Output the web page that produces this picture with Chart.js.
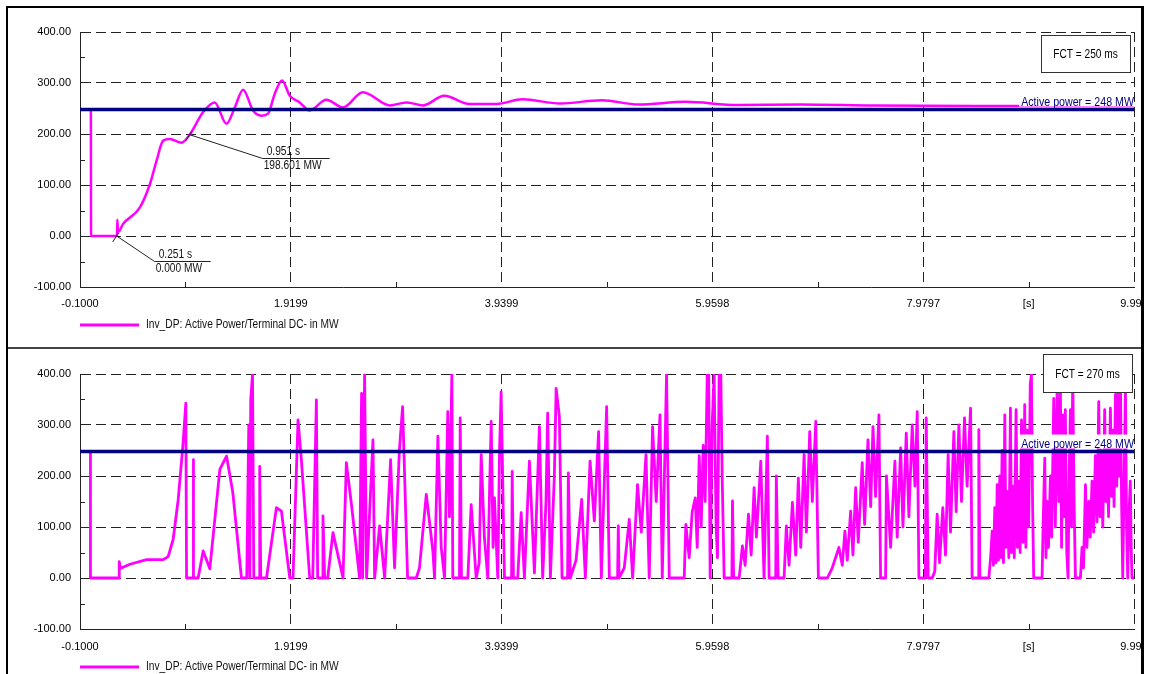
<!DOCTYPE html>
<html>
<head>
<meta charset="utf-8">
<title>Inv_DP active power</title>
<script src="https://cdn.jsdelivr.net/npm/chart.js@4.4.1/dist/chart.umd.min.js"></script>
<style>
  html, body { margin: 0; padding: 0; background: #fff; }
  body { width: 1150px; height: 674px; position: relative; overflow: hidden; }
  canvas { position: absolute; left: 0; }
  #topChart { top: 0; }
  #bottomChart { top: 349px; }
  #frame { position: absolute; left: 6px; top: 6px; width: 1133px; height: 700px; border: 2px solid #000; border-right-width: 3px; z-index: 2; }
  #divider { position: absolute; left: 8px; top: 347px; width: 1133px; height: 2px; background: #444; z-index: 2; }
  #edge { position: absolute; left: 1144px; top: 0; width: 6px; height: 674px; background: #fff; z-index: 1; }
</style>
</head>
<body>
<canvas id="topChart" width="1150" height="345"></canvas>
<canvas id="bottomChart" width="1150" height="325"></canvas>
<div id="edge"></div>
<div id="divider"></div>
<div id="frame"></div>
<script>
const FONT = "'Liberation Sans', Arial, sans-serif";

// axes
const xMin = -0.1;
const xMax = 9.999;
const xTickValues = [-0.1, 0.90995, 1.9199, 2.9299, 3.9399, 4.94985, 5.9598, 6.96975, 7.9797, 8.98935, 9.999];
const xTickLabels = ['-0.1000', '', '1.9199', '', '3.9399', '', '5.9598', '', '7.9797', '[s]', '9.999'];
const yTickValues = [-100, -50, 0, 50, 100, 150, 200, 250, 300, 350, 400];
const yTickLabels = ['-100.00', '', '0.00', '', '100.00', '', '200.00', '', '300.00', '', '400.00'];

const legendText = 'Inv_DP: Active Power/Terminal DC- in MW';
const activePowerRef = 248; // MW

// FCT = 250 ms case (s / MW)
const topTime = [-0.1, 0.004, 0.006, 0.255, 0.257, 0.265, 0.314, 0.474, 0.57, 0.634, 0.697, 0.761, 0.873, 0.951,
  1.08, 1.19, 1.304, 1.383, 1.463, 1.558, 1.639, 1.702, 1.766, 1.836, 1.91, 2.005, 2.10, 2.26, 2.42, 2.61,
  2.87, 3.03, 3.185, 3.39, 3.63, 3.89, 4.14, 4.5, 4.9, 5.25, 5.7, 6.2, 6.8, 7.5, 8.5, 9.999];
const topPower = [248, 248, 0, 0, 32, 8, 24, 56, 102, 148, 187, 190, 183, 198.6,
  243, 262, 220, 252, 287, 246, 236, 240, 279, 305, 275, 262, 246, 267, 252, 282,
  256, 262, 256, 275, 259, 259, 268, 260, 266, 258, 263, 257, 258, 256, 255, 255];

// cursor readouts on the upper trace
const markerTime = [0.251, 0.951];
const markerPower = [0.000, 198.601];

// FCT = 270 ms case (s / MW)
const bottomTime = [
  -0.1, 0.0, 0.0, 0.276, 0.276, 0.29, 0.378, 0.538, 0.697, 0.745, 0.793, 0.841, 0.888, 0.914, 0.921,
  0.984, 0.984, 0.99, 1.032, 1.08, 1.144, 1.24, 1.304, 1.364, 1.447,
  1.498, 1.517, 1.527, 1.536, 1.553, 1.565, 1.616, 1.622, 1.632, 1.687, 1.782, 1.83, 1.91,
  1.941, 1.989, 2.021, 2.101, 2.13, 2.165, 2.177, 2.222, 2.228, 2.244, 2.273, 2.324, 2.42,
  2.452, 2.5, 2.579, 2.598, 2.608, 2.627, 2.646, 2.707, 2.723, 2.771, 2.819, 2.876, 2.914, 2.96, 2.991, 3.039,
  3.122, 3.153, 3.218, 3.281, 3.297, 3.329, 3.361, 3.393, 3.424, 3.44, 3.463, 3.472,
  3.536, 3.543, 3.555, 3.616, 3.648, 3.696, 3.725, 3.744, 3.775, 3.807, 3.825, 3.84, 3.858, 3.871, 3.903, 3.92, 3.935, 3.967,
  4.035, 4.041, 4.053, 4.094, 4.127, 4.158, 4.206, 4.254, 4.302, 4.333, 4.365, 4.381, 4.407, 4.445, 4.462, 4.493, 4.519,
  4.572, 4.579, 4.598, 4.653, 4.707, 4.742, 4.787, 4.828, 4.869, 4.895, 4.946, 4.972,
  5.051, 5.058, 5.065, 5.115, 5.163, 5.195, 5.242, 5.278, 5.323, 5.354, 5.386, 5.421, 5.457, 5.479, 5.52, 5.546,
  5.689, 5.705, 5.737, 5.766, 5.795, 5.814, 5.833, 5.852, 5.871, 5.89, 5.91, 5.924, 5.938, 5.957, 5.976, 5.995, 6.008, 6.024, 6.04, 6.053, 6.072,
  6.146, 6.152, 6.163, 6.216, 6.247, 6.273, 6.305, 6.331, 6.359, 6.381, 6.423, 6.454, 6.486, 6.503,
  6.566, 6.572, 6.589, 6.646, 6.668, 6.694, 6.726, 6.758, 6.783, 6.806, 6.838, 6.86, 6.892, 6.917, 6.95, 6.975,
  7.061, 7.108, 7.172, 7.204, 7.229, 7.252, 7.284, 7.306, 7.332, 7.357, 7.395, 7.418, 7.45, 7.476, 7.498, 7.523, 7.555, 7.571,
  7.619, 7.627, 7.667, 7.708, 7.73, 7.763, 7.785, 7.817, 7.842, 7.874, 7.9, 7.922, 7.938,
  8.0, 8.008, 8.027, 8.065, 8.09, 8.113, 8.136, 8.167, 8.193, 8.218, 8.241, 8.273, 8.295, 8.321, 8.346, 8.375, 8.4, 8.433, 8.448,
  8.506, 8.512, 8.522, 8.608, 8.625, 8.64, 8.652, 8.665, 8.677, 8.688, 8.7, 8.713, 8.724, 8.735, 8.748, 8.761, 8.772, 8.783, 8.8,
  8.815, 8.826, 8.837, 8.852, 8.869, 8.882, 8.895, 8.908, 8.921, 8.936, 8.952, 8.963, 8.974, 8.99, 9.005, 9.016, 9.027, 9.038,
  9.118, 9.13, 9.144, 9.155, 9.166, 9.18, 9.198, 9.21, 9.23, 9.245, 9.262, 9.278, 9.293, 9.305, 9.316, 9.33, 9.341, 9.355,
  9.367, 9.378, 9.39, 9.4, 9.412, 9.425, 9.438,
  9.486, 9.501, 9.515, 9.534, 9.548, 9.565, 9.58, 9.597, 9.612, 9.629, 9.645, 9.661, 9.674, 9.686, 9.7, 9.718, 9.73, 9.74, 9.755,
  9.773, 9.785, 9.795, 9.808, 9.821, 9.834, 9.846, 9.858, 9.869, 9.88, 9.891, 9.905, 9.917, 9.928, 9.939, 9.95, 9.964, 9.972, 9.98, 9.999
];
const bottomPower = [
  248, 248, 0, 0, 32, 19, 27, 36, 36, 42, 76, 154, 265, 343, 0,
  0, 232, 0, 0, 53, 18, 213, 239, 168, 0,
  0, 300, 0, 350, 400, 0, 0, 219, 0, 0, 138, 131, 0,
  0, 310, 232, 0, 0, 349, 0, 0, 122, 0, 0, 89, 0,
  226, 146, 0, 362, 0, 400, 0, 271, 0, 102, 0, 232, 20, 250, 336, 0,
  0, 20, 164, 53, 0, 278, 60, 0, 326, 120, 400, 0,
  0, 314, 0, 0, 144, 0, 30, 242, 79, 0, 180, 307, 60, 157, 0, 250, 365, 0,
  0, 209, 0, 0, 128, 0, 229, 10, 297, 0, 150, 323, 0, 200, 372, 317, 0,
  0, 206, 0, 35, 154, 0, 229, 112, 287, 0, 336, 0,
  0, 102, 0, 20, 115, 0, 183, 90, 242, 0, 297, 150, 320, 0, 400, 0,
  0, 105, 40, 130, 157, 60, 240, 100, 260, 150, 400, 400, 0, 300, 400, 100, 40, 400, 400, 200, 0,
  0, 151, 0, 0, 63, 25, 125, 45, 177, 80, 229, 0, 278, 0,
  0, 200, 0, 0, 102, 25, 148, 45, 196, 60, 242, 90, 287, 150, 307, 0,
  0, 20, 60, 25, 92, 35, 131, 45, 177, 70, 226, 105, 271, 140, 297, 160, 320, 0,
  0, 200, 60, 229, 80, 255, 100, 284, 120, 300, 180, 326, 0,
  0, 314, 0, 0, 13, 125, 30, 138, 45, 242, 90, 287, 130, 300, 150, 314, 180, 333, 0,
  0, 291, 0, 0, 40, 92, 25, 138, 30, 183, 35, 200, 40, 250, 30, 320, 60, 170, 40,
  333, 50, 180, 40, 330, 60, 190, 50, 310, 70, 340, 60, 290, 100, 380, 400, 150, 0,
  0, 120, 235, 40, 150, 60, 200, 80, 352, 100, 370, 150, 400, 60, 320, 120, 330, 50,
  0, 200, 330, 100, 400, 150, 0,
  0, 60, 20, 183, 60, 150, 80, 190, 90, 240, 110, 346, 120, 250, 100, 330, 150, 260, 120,
  333, 160, 290, 140, 360, 180, 376, 200, 400, 150, 0, 200, 376, 100, 0, 120, 190, 60, 0, 0
];

function isMajor(label) {
  return /\d/.test(label);
}

// narrow text, like the plotting program's screen font
function narrowText(ctx, text, x, y, size, squeeze, align, baseline) {
  ctx.save();
  ctx.font = `${size}px ${FONT}`;
  ctx.translate(x, y);
  ctx.scale(squeeze, 1);
  ctx.textAlign = align;
  ctx.textBaseline = baseline;
  ctx.fillText(text, 0, 0);
  ctx.restore();
}

// inner minor ticks, cursor readouts, reference label, FCT box and legend
const panelDecor = {
  id: 'panelDecor',
  beforeDatasetsDraw(chart) {
    const { ctx, chartArea: area, scales: { x, y } } = chart;
    ctx.save();
    ctx.strokeStyle = '#222';
    ctx.lineWidth = 1;
    ctx.beginPath();
    xTickValues.forEach((v, i) => {
      if (isMajor(xTickLabels[i])) return;
      const px = Math.round(x.getPixelForValue(v)) + 0.5;
      ctx.moveTo(px, area.bottom);
      ctx.lineTo(px, area.bottom - 5);
    });
    yTickValues.forEach((v, i) => {
      if (isMajor(yTickLabels[i])) return;
      const py = Math.round(y.getPixelForValue(v)) + 0.5;
      ctx.moveTo(area.left, py);
      ctx.lineTo(area.left + 5, py);
    });
    ctx.stroke();
    ctx.restore();
  },
  afterDatasetsDraw(chart, args, opts) {
    const { ctx, chartArea: area, scales: { x, y } } = chart;
    ctx.save();

    // reference level label on a white patch
    const refText = `Active power = ${activePowerRef} MW`;
    const yRef = y.getPixelForValue(activePowerRef);
    ctx.font = `13px ${FONT}`;
    const w = ctx.measureText(refText).width * 0.82;
    ctx.fillStyle = '#fff';
    ctx.fillRect(area.right - w - 2, yRef - 17, w + 2, 14);
    ctx.fillStyle = '#000080';
    narrowText(ctx, refText, area.right, yRef - 4, 13, 0.82, 'right', 'alphabetic');

    // cursor readouts
    if (opts.markers) {
      ctx.strokeStyle = '#222';
      ctx.fillStyle = '#111';
      ctx.lineWidth = 1;
      markerTime.forEach((t, i) => {
        const m = opts.markers[i];
        const px = x.getPixelForValue(t);
        const py = y.getPixelForValue(markerPower[i]);
        const ex = px + m.dx, ey = Math.round(py + m.dy) + 0.5;
        ctx.beginPath();
        ctx.moveTo(px - 4, py + 6);
        ctx.lineTo(px + 2, py - 3);
        ctx.moveTo(px, py);
        ctx.lineTo(ex, ey);
        ctx.lineTo(ex + m.len, ey);
        ctx.stroke();
        narrowText(ctx, `${t.toFixed(3)} s`, ex + 4, ey - 1, 12, 0.85, 'left', 'bottom');
        narrowText(ctx, `${markerPower[i].toFixed(3)} MW`, ex + 1, ey + 1, 12, 0.85, 'left', 'top');
      });
    }
    ctx.restore();
  },
  afterDraw(chart, args, opts) {
    const { ctx, chartArea: area } = chart;
    ctx.save();
    // FCT box
    const b = opts.fct;
    const bx = Math.round(area.right - b.fromRight), by = Math.round(area.top + b.fromTop);
    ctx.fillStyle = '#fff';
    ctx.fillRect(bx, by, b.w, b.h);
    ctx.strokeStyle = '#333';
    ctx.lineWidth = 1;
    ctx.strokeRect(bx + 0.5, by + 0.5, b.w, b.h);
    ctx.fillStyle = '#000';
    narrowText(ctx, b.text, bx + b.w / 2, by + b.h / 2 + 1, 13, 0.78, 'center', 'middle');

    // legend
    const ly = area.bottom + 38;
    ctx.strokeStyle = '#ff00ff';
    ctx.lineWidth = 3;
    ctx.beginPath();
    ctx.moveTo(area.left, ly);
    ctx.lineTo(area.left + 59, ly);
    ctx.stroke();
    ctx.fillStyle = '#111';
    narrowText(ctx, legendText, area.left + 66, ly, 12, 0.85, 'left', 'middle');
    ctx.restore();
  }
};

function gridColor(labels) {
  return (c) => (c.index === 0 || !isMajor(labels[c.index] || '')) ? 'rgba(0,0,0,0)' : '#222';
}

function buildChart(canvasId, time, power, panel) {
  const points = time.map((t, i) => ({ x: t, y: power[i] }));
  return new Chart(document.getElementById(canvasId), {
    type: 'line',
    data: {
      datasets: [
        {
          label: 'Active power',
          data: [{ x: xMin, y: activePowerRef }, { x: xMax, y: activePowerRef }],
          borderColor: '#000080',
          borderWidth: 3.5,
          pointRadius: 0
        },
        {
          label: legendText,
          data: points,
          borderColor: '#ff00ff',
          borderWidth: panel.lineWidth,
          borderJoinStyle: 'round',
          pointRadius: 0,
          tension: 0,
          cubicInterpolationMode: panel.smooth ? 'monotone' : 'default',
          clip: 0
        }
      ]
    },
    options: {
      responsive: false,
      animation: false,
      devicePixelRatio: 1,
      events: [],
      layout: { padding: { top: panel.padTop, right: 16, left: 0, bottom: 0 } },
      scales: {
        x: {
          type: 'linear',
          min: xMin,
          max: xMax,
          afterBuildTicks: (s) => { s.ticks = xTickValues.map((v) => ({ value: v })); },
          afterFit: (s) => {
            s.height = panel.xAxisHeight;
            s.paddingLeft = 0;
            s.paddingRight = 0;
          },
          ticks: {
            autoSkip: false,
            maxRotation: 0,
            padding: panel.xLabelGap,
            color: '#000',
            font: { family: FONT, size: 11 },
            callback: (v, i) => xTickLabels[i]
          },
          grid: { drawTicks: false, lineWidth: 1, color: gridColor(xTickLabels) },
          border: { display: true, color: '#222', width: 1, dash: [10, 5] }
        },
        y: {
          type: 'linear',
          min: -100,
          max: 400,
          afterBuildTicks: (s) => { s.ticks = yTickValues.map((v) => ({ value: v })); },
          afterFit: (s) => {
            s.width = 80;
            s.paddingTop = 0;
            s.paddingBottom = 0;
          },
          ticks: {
            autoSkip: false,
            padding: 9,
            color: '#000',
            font: { family: FONT, size: 11 },
            callback: (v, i) => yTickLabels[i]
          },
          grid: { drawTicks: false, lineWidth: 1, color: gridColor(yTickLabels) },
          border: { display: true, color: '#222', width: 1, dash: [10, 5] }
        }
      },
      plugins: {
        legend: { display: false },
        tooltip: { enabled: false },
        panelDecor: { fct: panel.fct, markers: panel.markers }
      }
    },
    plugins: [panelDecor]
  });
}

buildChart('topChart', topTime, topPower, {
  smooth: true,
  lineWidth: 2.5,
  padTop: 32,
  xAxisHeight: 58,
  xLabelGap: 10,
  fct: { text: 'FCT = 250 ms', fromRight: 93, fromTop: 3, w: 89, h: 37 },
  markers: [{ dx: 38, dy: 25, len: 56 }, { dx: 73, dy: 23, len: 67 }]
});

buildChart('bottomChart', bottomTime, bottomPower, {
  smooth: false,
  lineWidth: 2.8,
  padTop: 25,
  xAxisHeight: 45,
  xLabelGap: 11,
  fct: { text: 'FCT = 270 ms', fromRight: 91, fromTop: -20, w: 89, h: 38 },
  markers: null
});
</script>
</body>
</html>
